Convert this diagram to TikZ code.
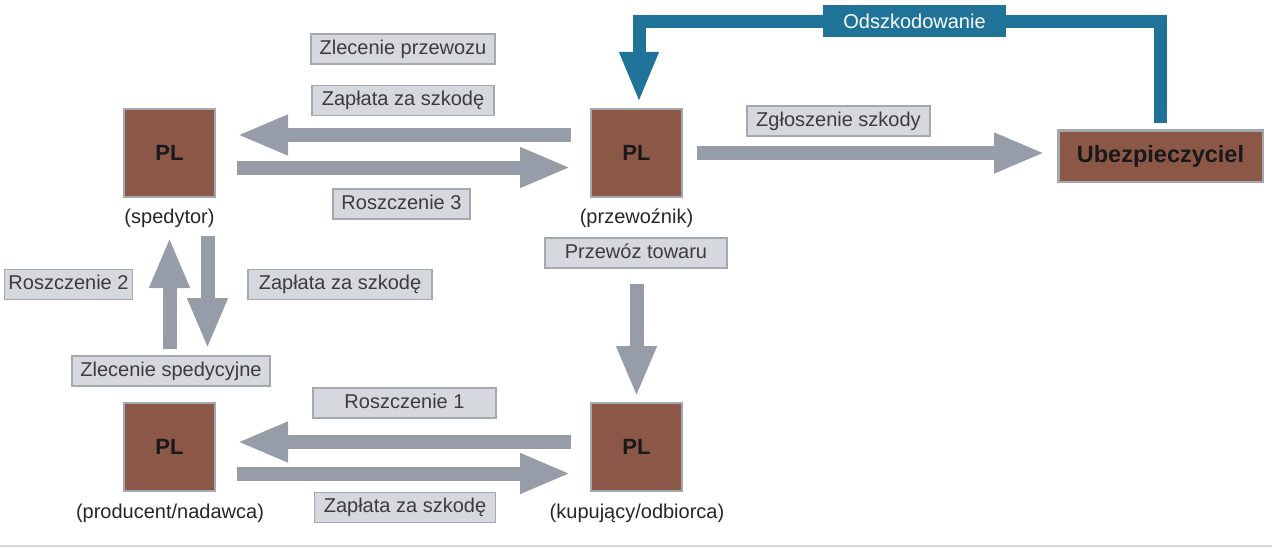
\documentclass[tikz,border=0pt]{standalone}
\usepackage{fontspec}
\setmainfont{Liberation Sans}
\usetikzlibrary{arrows.meta,backgrounds}
\definecolor{plbrown}{HTML}{8B5746}
\definecolor{plgray}{HTML}{979DA8}
\definecolor{boxgray}{HTML}{D5D8DD}
\definecolor{edgegray}{HTML}{A3A8B1}
\definecolor{insblue}{HTML}{1F7399}
\definecolor{txtgray}{HTML}{3C3C3C}
\tikzset{
  plbox/.style={draw=edgegray,line width=2.5pt,fill=plbrown,minimum width=91pt,minimum height=88pt,
    font=\fontsize{22}{26}\selectfont\bfseries,text=black!90},
  tag/.style={draw=edgegray,line width=1.2pt,fill=boxgray,minimum height=30pt,text height=14.5pt,text depth=4pt,
    inner xsep=4pt,font=\fontsize{20}{23}\selectfont,text=txtgray},
  caption/.style={font=\fontsize{20}{23}\selectfont,text=black!85},
  flow/.style={line width=14pt,draw=plgray,-{Triangle[length=51pt,width=37pt]}},
  payout/.style={line width=13pt,draw=insblue,-{Triangle[length=51pt,width=36pt]}}
}
\begin{document}
\begin{tikzpicture}[x=1pt,y=-1pt]
  \useasboundingbox (0,0) rectangle (1272,547);
  \draw[black!15,line width=1.5pt] (0,546) -- (1272,546);
  \node[plbox] (sped) at (169.5,153) {PL};
  \node[plbox] (przew) at (636.5,153) {PL};
  \node[plbox] (prod) at (169.5,447) {PL};
  \node[plbox] (kup) at (636.5,447) {PL};
  \node[plbox,minimum width=204.5pt,minimum height=51.5pt,font=\fontsize{23.5}{27}\selectfont\bfseries] (ubez) at (1160.5,156) {Ubezpieczyciel};
  \node[caption] (spedcap) at (169.5,218) {(spedytor)};
  \node[caption] (przewcap) at (636.5,218) {(przewoźnik)};
  \node[caption] (prodcap) at (170,513) {(producent/nadawca)};
  \node[caption] (kupcap) at (637,513) {(kupujący/odbiorca)};
  \node[tag,minimum width=184pt] (zlecprz) at (403,49) {Zlecenie przewozu};
  \node[tag,minimum width=182pt] (zapl1) at (403,100.5) {Zapłata za szkodę};
  \node[tag,minimum width=137pt] (rosz3) at (401.5,204) {Roszczenie 3};
  \node[tag,minimum width=183pt] (zglo) at (838.5,121) {Zgłoszenie szkody};
  \node[tag,minimum width=182pt] (przewoz) at (636,253) {Przewóz towaru};
  \node[tag,minimum width=127pt] (rosz2) at (68.5,284.5) {Roszczenie 2};
  \node[tag,minimum width=184pt] (zapl2) at (340,284.5) {Zapłata za szkodę};
  \node[tag,minimum width=198pt] (zlecsped) at (171,371) {Zlecenie spedycyjne};
  \node[tag,minimum width=183pt] (rosz1) at (404.5,403) {Roszczenie 1};
  \node[tag,minimum width=181pt] (zapl3) at (405,507.5) {Zapłata za szkodę};
  \node[fill=insblue,text=white,minimum width=183pt,minimum height=32pt,font=\fontsize{20}{23}\selectfont] (odsz) at (914.5,21) {Odszkodowanie};
  \draw[flow,shorten <=18.75pt,shorten >=20.75pt] ([yshift=18pt]przew.west) -- ([yshift=18pt]sped.east);
  \draw[flow,shorten <=20.75pt,shorten >=18.75pt] ([yshift=-14.5pt]sped.east) -- ([yshift=-14.5pt]przew.west);
  \draw[flow,shorten <=14pt,shorten >=12pt] (przew.east) -- (przew.east -| ubez.west);
  \draw[flow,shorten <=52.75pt,shorten >=38.75pt] (prod.north) -- (sped.south);
  \draw[flow,shorten <=37.75pt,shorten >=52.75pt] ([xshift=38pt]sped.south) -- ([xshift=38pt]prod.north);
  \draw[flow,shorten <=85.75pt,shorten >=4.75pt] (przew.south) -- (kup.north);
  \draw[flow,shorten <=18.75pt,shorten >=20.75pt] ([yshift=5pt]kup.west) -- ([yshift=5pt]prod.east);
  \draw[flow,shorten <=20.75pt,shorten >=18.75pt] ([yshift=-26.5pt]prod.east) -- ([yshift=-26.5pt]kup.west);
  \begin{scope}[on background layer]
    \draw[payout,shorten <=6pt,shorten >=5pt] (ubez.north) |- ([yshift=-0.5pt]odsz.center) -| ([xshift=2.5pt]przew.north);
  \end{scope}
\end{tikzpicture}
\end{document}
